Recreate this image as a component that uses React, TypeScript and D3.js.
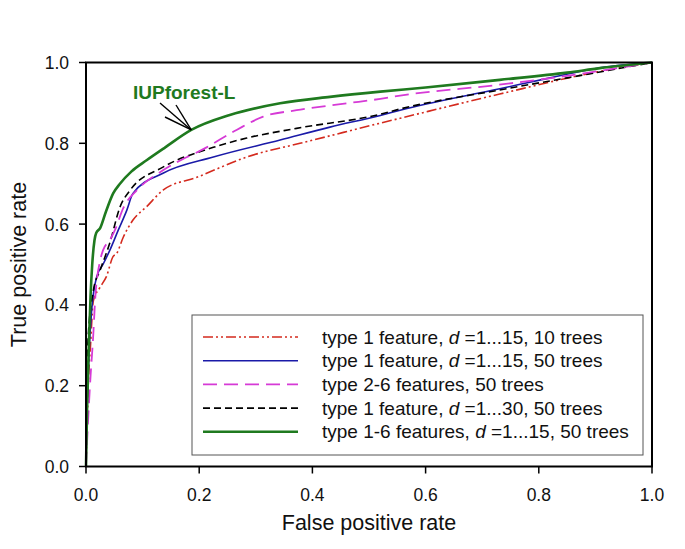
import React from "react";
import * as d3 from "d3";

const xTicks = [0, 0.2, 0.4, 0.6, 0.8, 1.0];
const yTicks = [0, 0.2, 0.4, 0.6, 0.8, 1.0];

const redFpr = [0, 0.002, 0.004, 0.008, 0.013, 0.025, 0.036, 0.048, 0.054, 0.066, 0.083, 0.107, 0.136, 0.196, 0.284, 0.378, 0.401, 0.52, 0.555, 0.731, 0.908, 1];
const redTpr = [0, 0.1, 0.2, 0.3, 0.41, 0.444, 0.47, 0.52, 0.527, 0.568, 0.61, 0.643, 0.684, 0.716, 0.766, 0.8, 0.808, 0.85, 0.862, 0.922, 0.978, 1];

const blueFpr = [0, 0.001, 0.005, 0.01, 0.019, 0.03, 0.042, 0.057, 0.072, 0.083, 0.136, 0.225, 0.343, 0.431, 0.52, 0.555, 0.731, 0.82, 0.908, 1];
const blueTpr = [0, 0.08, 0.27, 0.386, 0.47, 0.5, 0.535, 0.585, 0.634, 0.676, 0.726, 0.766, 0.808, 0.84, 0.869, 0.882, 0.935, 0.962, 0.987, 1];

const magFpr = [0, 0.002, 0.007, 0.013, 0.016, 0.025, 0.03, 0.042, 0.051, 0.066, 0.09, 0.136, 0.213, 0.266, 0.313, 0.372, 0.461, 0.52, 0.555, 0.73, 0.85, 1];
const magTpr = [0, 0.064, 0.2, 0.33, 0.41, 0.51, 0.535, 0.56, 0.585, 0.64, 0.684, 0.733, 0.79, 0.833, 0.866, 0.882, 0.899, 0.91, 0.918, 0.945, 0.967, 1];

const blackFpr = [0, 0.001, 0.003, 0.013, 0.025, 0.042, 0.06, 0.078, 0.136, 0.225, 0.284, 0.372, 0.52, 0.555, 0.731, 0.85, 1];
const blackTpr = [0, 0.15, 0.3, 0.436, 0.486, 0.553, 0.642, 0.684, 0.741, 0.79, 0.813, 0.837, 0.872, 0.885, 0.932, 0.962, 1];

const greenFpr = [0, 0.002, 0.005, 0.008, 0.011, 0.015, 0.018, 0.025, 0.035, 0.048, 0.06, 0.08, 0.107, 0.14, 0.186, 0.254, 0.343, 0.431, 0.52, 0.6, 0.731, 0.85, 0.908, 1];
const greenTpr = [0, 0.15, 0.3, 0.42, 0.5, 0.56, 0.578, 0.59, 0.63, 0.676, 0.7, 0.73, 0.758, 0.79, 0.833, 0.87, 0.899, 0.915, 0.928, 0.938, 0.957, 0.975, 0.986, 1];

const seriesLabels = [
  ["type 1 feature, ", "d", " =1...15, 10 trees"],
  ["type 1 feature, ", "d", " =1...15, 50 trees"],
  ["type 2-6 features, 50 trees", "", ""],
  ["type 1 feature, ", "d", " =1...30, 50 trees"],
  ["type 1-6 features, ", "d", " =1...15, 50 trees"],
];

const series = [
  { fpr: redFpr, tpr: redTpr, color: "#d42a1e", width: 1.6, dash: "10,3,2,3,2,3" },
  { fpr: blueFpr, tpr: blueTpr, color: "#1a1aa8", width: 1.6, dash: "" },
  { fpr: magFpr, tpr: magTpr, color: "#d63ad6", width: 1.8, dash: "14,7" },
  { fpr: blackFpr, tpr: blackTpr, color: "#000000", width: 1.6, dash: "7,4" },
  { fpr: greenFpr, tpr: greenTpr, color: "#1f7a1f", width: 2.6, dash: "" },
];

export default function App() {
  const W = 685, H = 549;
  const left = 86, right = 652, top = 62.5, bottom = 466.5;
  const x = d3.scaleLinear().domain([0, 1]).range([left, right]);
  const y = d3.scaleLinear().domain([0, 1]).range([bottom, top]);
  const line = d3.line<[number, number]>().x((d) => x(d[0])).y((d) => y(d[1])).curve(d3.curveMonotoneX);
  const font = "Arial, 'Liberation Sans', sans-serif";
  const drawOrder = [0, 1, 3, 2, 4];

  const lg = { x0: 192, y0: 315, x1: 643, y1: 455 };
  const rowY = (i: number) => 337 + i * 23.7;

  const arrowTip: [number, number] = [x(0.186), y(0.833)];

  return (
    <svg width={W} height={H} style={{ position: "absolute", left: 0, top: 0, background: "#fff" }} xmlns="http://www.w3.org/2000/svg">
      <rect x={0} y={0} width={W} height={H} fill="#fff" />
      {drawOrder.map((si) => {
        const s = series[si];
        const pts = s.fpr.map((f, i) => [f, s.tpr[i]] as [number, number]);
        return (
          <path key={si} d={line(pts) || ""} fill="none" stroke={s.color} strokeWidth={s.width}
            strokeDasharray={s.dash || undefined} strokeLinejoin="round" />
        );
      })}
      <rect x={left} y={top} width={right - left} height={bottom - top} fill="none" stroke="#000" strokeWidth={2} />
      {xTicks.map((t) => (
        <g key={"x" + t}>
          <line x1={x(t)} x2={x(t)} y1={bottom} y2={bottom + 7} stroke="#000" strokeWidth={1.5} />
          <text x={x(t)} y={bottom + 34} textAnchor="middle" fontFamily={font} fontSize={17.5} fill="#111">{t.toFixed(1)}</text>
        </g>
      ))}
      {yTicks.map((t) => (
        <g key={"y" + t}>
          <line x1={left - 7} x2={left} y1={y(t)} y2={y(t)} stroke="#000" strokeWidth={1.5} />
          <text x={left - 17} y={y(t) + 6.5} textAnchor="end" fontFamily={font} fontSize={17.5} fill="#111">{t.toFixed(1)}</text>
        </g>
      ))}
      <text x={(left + right) / 2} y={530} textAnchor="middle" fontFamily={font} fontSize={21.5} fill="#111">False positive rate</text>
      <text transform={`translate(26,${(top + bottom) / 2}) rotate(-90)`} textAnchor="middle" fontFamily={font} fontSize={21.5} fill="#111">True positive rate</text>
      <text x={133} y={99} fontFamily={font} fontSize={19} fontWeight="bold" fill="#1f7a1f">IUPforest-L</text>
      <line x1={160} y1={103} x2={arrowTip[0]} y2={arrowTip[1]} stroke="#000" strokeWidth={1.4} />
      <line x1={176} y1={105} x2={arrowTip[0]} y2={arrowTip[1]} stroke="#000" strokeWidth={1.4} />
      <line x1={165} y1={117} x2={arrowTip[0]} y2={arrowTip[1]} stroke="#000" strokeWidth={1.4} />
      <rect x={lg.x0} y={lg.y0} width={lg.x1 - lg.x0} height={lg.y1 - lg.y0} fill="#fff" stroke="#555" strokeWidth={1} />
      {series.map((s, i) => (
        <g key={"lg" + i}>
          <line x1={203} x2={298} y1={rowY(i)} y2={rowY(i)} stroke={s.color} strokeWidth={s.width} strokeDasharray={s.dash || undefined} />
          <text x={322} y={rowY(i) + 6.5} fontFamily={font} fontSize={19} fill="#111">
            {seriesLabels[i][0]}
            {seriesLabels[i][1] && <tspan fontStyle="italic">{seriesLabels[i][1]}</tspan>}
            {seriesLabels[i][2]}
          </text>
        </g>
      ))}
    </svg>
  );
}
